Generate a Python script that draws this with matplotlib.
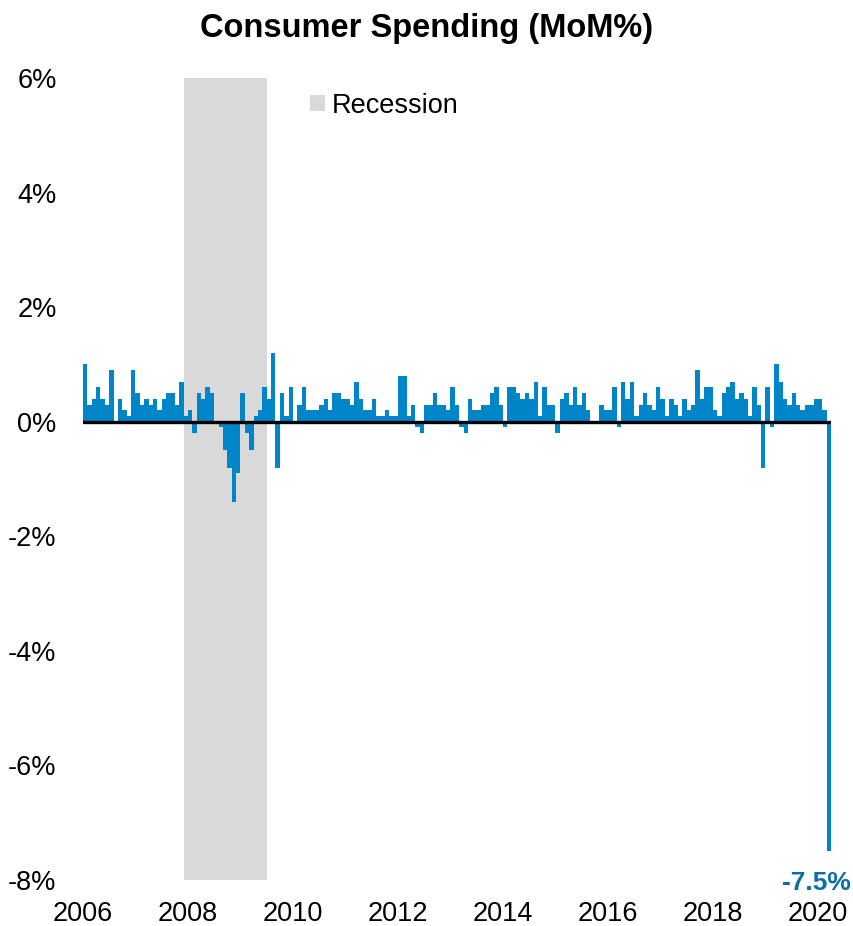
import matplotlib
matplotlib.use("Agg")
import matplotlib.pyplot as plt
from matplotlib.patches import Patch
import numpy as np

plt.rcParams['font.family'] = ['Liberation Sans', 'DejaVu Sans']

start_year = 2006
values = [
    # 2006
    1.0, 0.3, 0.4, 0.6, 0.4, 0.3, 0.9, 0.0, 0.4, 0.2, 0.1, 0.9,
    # 2007
    0.5, 0.3, 0.4, 0.3, 0.4, 0.2, 0.4, 0.5, 0.5, 0.3, 0.7, 0.1,
    # 2008
    0.2, -0.2, 0.5, 0.4, 0.6, 0.5, 0.0, -0.1, -0.5, -0.8, -1.4, -0.9,
    # 2009
    0.5, -0.2, -0.5, 0.1, 0.2, 0.6, 0.4, 1.2, -0.8, 0.5, 0.1, 0.6,
    # 2010
    0.0, 0.3, 0.6, 0.2, 0.2, 0.2, 0.3, 0.4, 0.2, 0.5, 0.5, 0.4,
    # 2011
    0.4, 0.3, 0.7, 0.4, 0.2, 0.2, 0.4, 0.1, 0.1, 0.2, 0.1, 0.1,
    # 2012
    0.8, 0.8, 0.1, 0.3, -0.1, -0.2, 0.3, 0.3, 0.5, 0.3, 0.3, 0.2,
    # 2013
    0.6, 0.3, -0.1, -0.2, 0.4, 0.2, 0.2, 0.3, 0.3, 0.5, 0.6, 0.3,
    # 2014
    -0.1, 0.6, 0.6, 0.5, 0.4, 0.5, 0.4, 0.7, 0.1, 0.6, 0.3, 0.3,
    # 2015
    -0.2, 0.4, 0.5, 0.3, 0.6, 0.3, 0.5, 0.2, 0.0, 0.0, 0.3, 0.2,
    # 2016
    0.2, 0.6, -0.1, 0.7, 0.4, 0.7, 0.1, 0.3, 0.5, 0.3, 0.2, 0.6,
    # 2017
    0.4, 0.1, 0.4, 0.3, 0.1, 0.4, 0.2, 0.3, 0.9, 0.4, 0.6, 0.6,
    # 2018
    0.2, 0.1, 0.5, 0.6, 0.7, 0.4, 0.5, 0.4, 0.1, 0.6, 0.3, -0.8,
    # 2019
    0.6, -0.1, 1.0, 0.7, 0.4, 0.3, 0.5, 0.3, 0.2, 0.3, 0.3, 0.4,
    # 2020
    0.4, 0.2, -7.5,
]
recession_start = 2007 + 11 / 12   # Dec 2007
recession_end = 2009 + 6 / 12      # Jun 2009
year_ticks = [2006, 2008, 2010, 2012, 2014, 2016, 2018, 2020]
y_ticks = [-8, -6, -4, -2, 0, 2, 4, 6]
last_label = "-7.5%"

bar_color = "#0085C8"
label_color = "#0A6FA6"

x = start_year + (np.arange(len(values)) + 0.5) / 12

fig = plt.figure(figsize=(8.54, 9.26), dpi=100)
ax = fig.add_axes([83 / 854, 46 / 926, 748 / 854, 802 / 926])

ax.axvspan(recession_start, recession_end, color="#D9D9D9", zorder=0, lw=0)
ax.bar(x, values, width=1 / 12, color=bar_color, linewidth=0, zorder=2)
ax.axhline(0, color="black", lw=2.4, zorder=3)

ax.set_xlim(start_year, start_year + len(values) / 12)
ax.set_ylim(-8, 6)
ax.set_xticks(year_ticks)
ax.set_xticklabels([str(y) for y in year_ticks])
ax.set_yticks(y_ticks)
ax.set_yticklabels([f"{t}%" for t in y_ticks])
ax.tick_params(axis="both", length=0, labelsize=19.5)
ax.tick_params(axis="y", pad=19)
ax.tick_params(axis="x", pad=15)
for s in ax.spines.values():
    s.set_visible(False)

ax.annotate(last_label, xy=(x[-1], values[-1]), xytext=(-9, -14),
            textcoords="offset points", color=label_color,
            fontsize=19, fontweight="bold", ha="center", va="top", zorder=4)

fig.suptitle("Consumer Spending (MoM%)", fontsize=23.5, fontweight="bold",
             y=1 - 29 / 926, va="center")

leg = ax.legend(handles=[Patch(facecolor="#D9D9D9", edgecolor="none", label="Recession")],
                loc="upper left", bbox_to_anchor=(0.2706, 1.012), frameon=False,
                fontsize=19.5, handlelength=0.55, handleheight=0.55, handletextpad=0.25)

fig.savefig("out.png", dpi=100)
